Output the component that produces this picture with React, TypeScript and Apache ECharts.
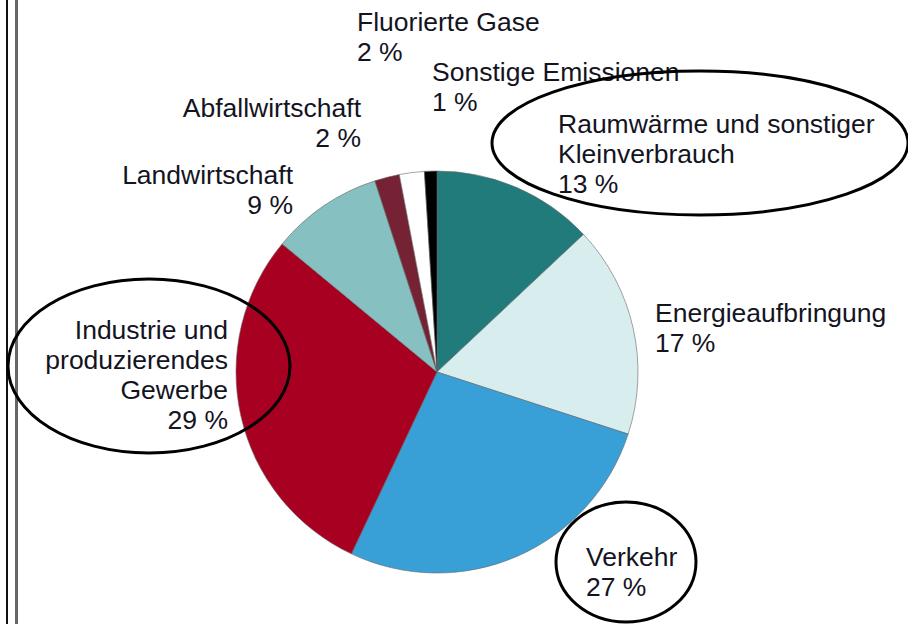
import React, { useEffect, useRef } from "react";
import * as echarts from "echarts";

const categories = [
  "Raumwärme und sonstiger\nKleinverbrauch",
  "Energieaufbringung",
  "Verkehr",
  "Industrie und\nproduzierendes\nGewerbe",
  "Landwirtschaft",
  "Abfallwirtschaft",
  "Fluorierte Gase",
  "Sonstige Emissionen",
];
const shares = [13, 17, 27, 29, 9, 2, 2, 1];
const colors = ["#217b7b", "#d8eeee", "#399fd7", "#a70020", "#86c0c0", "#742234", "#ffffff", "#000000"];

// label anchor positions (layout, not data)
const labelPos = [
  { x: 558, y: 109, align: "left" },
  { x: 655, y: 298, align: "left" },
  { x: 586, y: 542, align: "left" },
  { x: 228, y: 315, align: "right" },
  { x: 293, y: 160, align: "right" },
  { x: 361, y: 93, align: "right" },
  { x: 357, y: 7, align: "left" },
  { x: 432, y: 57, align: "left" },
];

export default function App() {
  const ref = useRef<HTMLDivElement>(null);
  useEffect(() => {
    if (!ref.current) return;
    const chart = echarts.init(ref.current, undefined, { renderer: "svg" });
    chart.setOption({
      animation: false,
      backgroundColor: "#ffffff",
      series: [
        {
          type: "pie",
          center: [437, 372],
          radius: 201,
          startAngle: 90,
          clockwise: true,
          silent: true,
          data: categories.map((name, i) => ({
            name,
            value: shares[i],
            itemStyle: { color: colors[i] },
          })),
          itemStyle: { borderColor: "#666", borderWidth: 0.6 },
          label: {
            show: true,
            formatter: "{b}\n{c} %",
            fontFamily: "Liberation Sans, Arial, sans-serif",
            fontSize: 26.5,
            lineHeight: 30,
            color: "#14141f",
            overflow: "none",
          },
          labelLine: { show: false },
          labelLayout: (p: any) => {
            const lp = labelPos[p.dataIndex];
            return { x: lp.x, y: lp.y, align: lp.align, verticalAlign: "top", width: 400 };
          },
        },
      ],
      graphic: [
        { type: "rect", shape: { x: 6, y: 0, width: 2, height: 624 }, style: { fill: "#111" }, z: 10 },
        { type: "rect", shape: { x: 15, y: 0, width: 3, height: 624 }, style: { fill: "#666" }, z: 10 },
        {
          type: "ellipse",
          shape: { cx: 700, cy: 143, rx: 208, ry: 72 },
          style: { fill: "none", stroke: "#000", lineWidth: 3 },
          z: 10,
        },
        {
          type: "ellipse",
          shape: { cx: 149, cy: 366, rx: 141, ry: 87 },
          style: { fill: "none", stroke: "#000", lineWidth: 3 },
          z: 10,
        },
        {
          type: "ellipse",
          shape: { cx: 626, cy: 562, rx: 70, ry: 60 },
          style: { fill: "none", stroke: "#000", lineWidth: 3 },
          z: 10,
        },
      ],
    });
    return () => chart.dispose();
  }, []);
  return (
    <div
      ref={ref}
      style={{ position: "fixed", left: 0, top: 0, width: 908, height: 624 }}
    />
  );
}
